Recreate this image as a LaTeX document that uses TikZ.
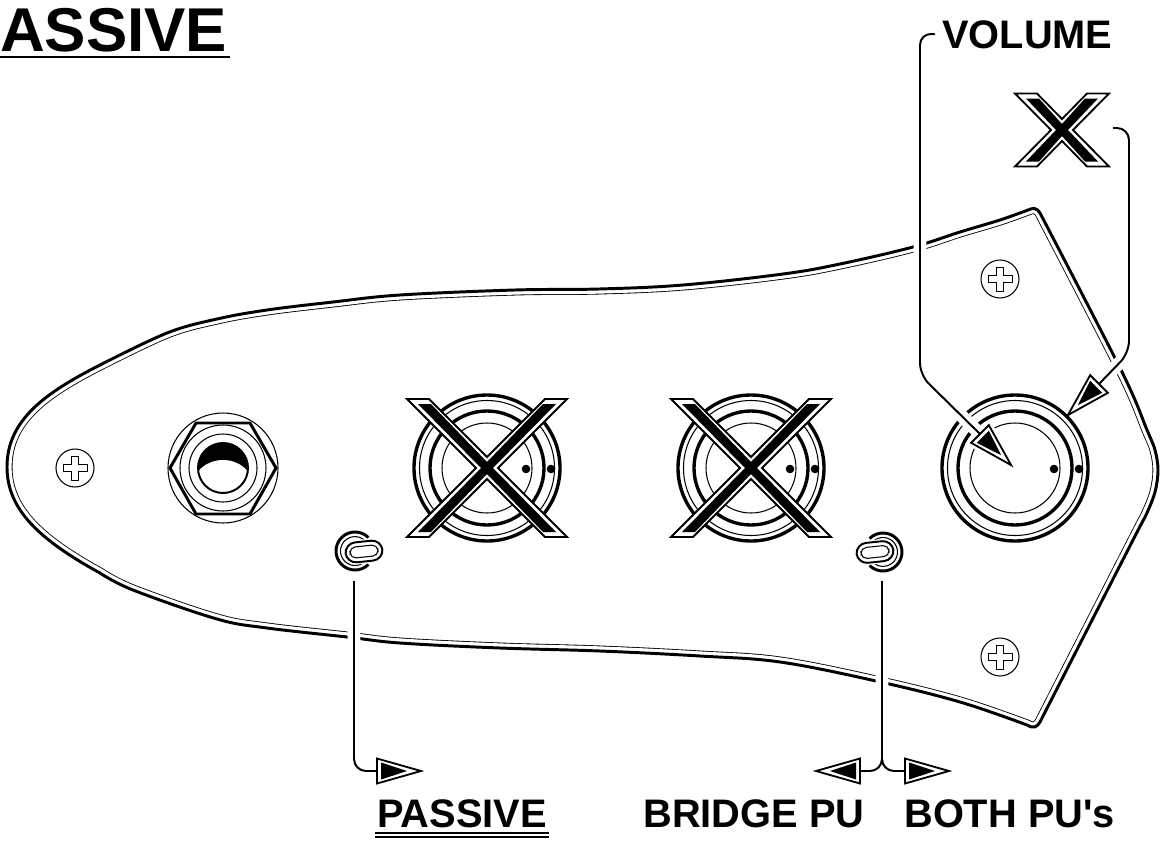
\documentclass[tikz,border=0pt]{standalone}
\usepackage{fontspec}
\setmainfont{Liberation Sans}
\usetikzlibrary{calc}

\def\platepath{plot[smooth,tension=.6] coordinates {(1028,210) (1000,220) (960,232) (913,247) (840,264) (783,274) (683,285) (599,289) (515,290) (400,295) (333,302) (267,310) (217,319) (167,333) (100,365)}
    .. controls (45,393) and (7,420) .. (7,467)
    .. controls (7,510) and (40,540) .. (100,573)
    -- plot[smooth,tension=.6] coordinates {(100,573) (133,590) (217,619) (267,628) (347,637) (400,643) (500,648) (600,651) (700,656) (780,662) (876,681) (960,702) (1027,725)}
    .. controls (1034,729) and (1037,727) .. (1040,722)
    -- plot[smooth,tension=.55] coordinates {(1040,722) (1133,540) (1146,515) (1155,492) (1158,470) (1155,450) (1147,430) (1122,372) (1040,213)}
    .. controls (1036,207) and (1033,208) .. (1028,210)}

\tikzset{
    heavy/.style={line width=2.1pt},
    medium/.style={line width=1.4pt},
    fine/.style={line width=.75pt},
    leader/.style={medium, rounded corners=.3cm, preaction={draw, white, line width=9.2pt}},
    caption/.style={inner sep=0pt, anchor=base west, font=\fontsize{28.3}{30}\selectfont\bfseries},
    pics/pointer/.style={code={
        \draw[fill=white, line width=1.3pt, miter limit=10] (0,-12.5) -- (44,0) -- (0,12.5) -- cycle;
        \fill (4,-8.5) -- (30,0) -- (4,8.5) -- cycle;
    }},
    pics/pointerhalo/.style={code={
        \draw[white, line width=5pt] (0,-12.5) -- (44,0) -- (0,12.5) -- cycle;
    }},
    pics/screw/.style={code={
        \draw[fine] (0,0) circle (19);
        \draw[line width=.55pt, line join=round] (-3.3,-12) -- (3.3,-12) -- (3.3,-3.3) -- (12,-3.3) -- (12,3.3) -- (3.3,3.3) -- (3.3,12) -- (-3.3,12) -- (-3.3,3.3) -- (-12,3.3) -- (-12,-3.3) -- (-3.3,-3.3) -- cycle;
    }},
    pics/knob/.style={code={
        \draw[line width=2.4pt] (0,0) circle (73);
        \draw[fine] (0,0) circle (67.5);
        \draw[line width=2.4pt] (0,0) circle (57);
        \draw[fine] (0,0) circle (45);
        \fill (39,1) circle (4.3) (64,1) circle (4.3);
    }},
    pics/crossmark/.style 2 args={code={
        \draw[fill=white, line width=1.3pt] (-#1,-#2) -- (-#1+22,-#2) -- (0,-11) -- (#1-22,-#2) -- (#1,-#2) -- (11,0)
            -- (#1,#2) -- (#1-22,#2) -- (0,11) -- (-#1+22,#2) -- (-#1,#2) -- (-11,0) -- cycle;
        \fill (-#1+11,-#2+5) -- (-#1+24,-#2+5) -- (0,-6) -- (#1-24,-#2+5) -- (#1-11,-#2+5) -- (6,0)
            -- (#1-11,#2-5) -- (#1-24,#2-5) -- (0,6) -- (-#1+24,#2-5) -- (-#1+11,#2-5) -- (-6,0) -- cycle;
    }},
    pics/togglering/.style={code={
        \draw[heavy] (45:19) arc (45:315:19);
        \draw[fine] (50:14.5) arc (50:310:14.5);
    }},
    pics/togglelever/.style={code={
        \draw[medium, fill=white, rounded corners=.26cm, rotate=6, preaction={draw, white, line width=3pt}] (-18.5,-10) rectangle (18.5,10);
        \draw[fine, rounded corners=.14cm, rotate=6] (-14,-5.5) rectangle (14,5.5);
    }},
}

\begin{document}
\begin{tikzpicture}[x=.025cm, y=-.025cm]

    \useasboundingbox (0,0) rectangle (1160,843);

    % plate
    \begin{scope}
        \clip \platepath;
        \draw[line width=7.8pt] \platepath -- cycle;
        \draw[white, line width=6.6pt] \platepath -- cycle;
    \end{scope}
    \draw[heavy] \platepath -- cycle;

    \foreach \x/\y in {75/468, 1000/279, 1000/657}
        \pic at (\x,\y) {screw};

    % jack
    \coordinate (J) at (223,468);
    \draw[fine] (J) circle (55);
    \draw[heavy, line join=round] (170,468) -- (196,423) -- (250,423) -- (276,468) -- (250,514) -- (196,514) -- cycle;
    \draw[fine] (J) circle (43);
    \draw[fine] (J) circle (34);
    \begin{scope}
        \clip (J) circle (25);
        \fill (J) circle (25);
        \fill[white] (223,486) ellipse (30 and 26);
    \end{scope}
    \draw[medium] (J) circle (25);

    % knobs
    \foreach \x in {487, 751, 1015}
        \pic at (\x,468) {knob};
    \foreach \x in {487, 751}
        \pic at (\x,468) {crossmark={80}{69}};
    \pic at (1062,130) {crossmark={47}{36.5}};

    % toggles
    \pic at (355,551) {togglering};
    \pic[rotate=180] at (883,552) {togglering};
    \pic at (364,551.5) {togglelever};
    \pic at (875,552) {togglelever};

    % texts
    \node[caption, font=\fontsize{44}{48}\selectfont\bfseries] (assive) at (0,51) {ASSIVE};
    \node[caption] (volume) at (942,48) {VOLUME};
    \node[caption] (passive) at (377,827) {PASSIVE};
    \node[caption] (bridge) at (643,827) {BRIDGE PU};
    \node[caption] (both) at (904,827) {BOTH PU\textquotesingle s};

    \draw[heavy] ($(assive.base west)+(0,6)$) -- ($(assive.base east)+(2,6)$);
    \draw[medium] ($(passive.base west)+(-2,6)$) -- ($(passive.base east)+(2,6)$);
    \draw[medium] ($(passive.base west)+(-2,10)$) -- ($(passive.base east)+(2,10)$);

    % leaders
    \coordinate (volhead) at (980,434);
    \coordinate (xhead) at (1099,384);
    \coordinate (passhead) at (377,771);
    \coordinate (bridgehead) at (860,771);
    \coordinate (bothhead) at (905,771);
    \coordinate (passfoot) at (354,581);
    \coordinate (bothfoot) at (882,581);

    \pic[rotate=-45] at (volhead) {pointerhalo};
    \draw[leader] ($(volume.west)+(-7,0)$) -- (920,33) -- (920,375) -- (volhead);
    \draw[leader] (1113,128) -- (1129,128) -- (1129,353) -- (xhead);
    \draw[leader] (passfoot) -- (354,771) -- (passhead);
    \draw[leader] (bothfoot) -- (882,771) -- (bridgehead) (bothfoot) -- (882,771) -- (bothhead);

    \pic[rotate=-45] at (volhead) {pointer};
    \pic[rotate=225] at (xhead) {pointer};
    \pic at (passhead) {pointer};
    \pic[rotate=180] at (bridgehead) {pointer};
    \pic at (bothhead) {pointer};

\end{tikzpicture}
\end{document}
